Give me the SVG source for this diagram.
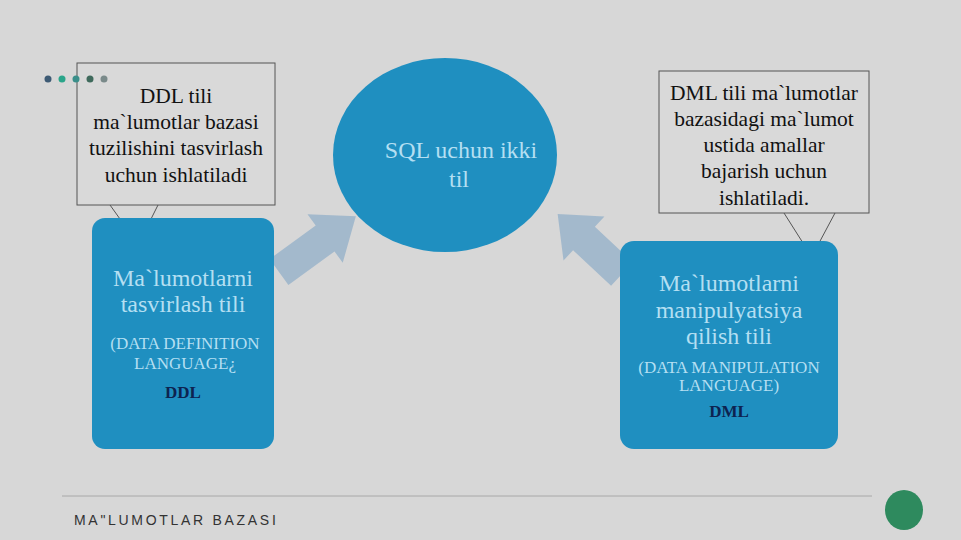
<svg xmlns="http://www.w3.org/2000/svg" width="961" height="540" viewBox="0 0 961 540">
<style>
.callout{fill:#d9d9d9;stroke:#555;stroke-width:1}
.ptr{fill:none;stroke:#555;stroke-width:1}
.ct{font-family:"Liberation Serif",serif;font-size:21.5px;fill:#111;text-anchor:middle}
.box{fill:#1f8fc0}
.bt{font-family:"Liberation Serif",serif;font-size:24px;fill:#b4dff2;text-anchor:middle}
.bs{font-family:"Liberation Serif",serif;font-size:17px;fill:#b4dff2;text-anchor:middle}
.bb{font-family:"Liberation Serif",serif;font-size:17px;font-weight:bold;fill:#0d2350;text-anchor:middle}
.arr{fill:#9db6cb;opacity:0.9}
</style>
<rect width="961" height="540" fill="#d7d7d7"/>
<g id="connectors">
<polygon class="arr" transform="translate(279,272) rotate(-36)" points="0,-16 57,-16 57,-30 95,0 57,30 57,16 0,16"/>
<polygon class="arr" transform="translate(622,274) rotate(-137)" points="0,-16 52,-16 52,-30 88,0 52,30 52,16 0,16"/>
</g>
<g id="sql">
<ellipse cx="445" cy="155" rx="112" ry="97" fill="#1f8fc0"/>
<text class="bt" x="461" y="158" font-size="26">SQL uchun ikki</text>
<text class="bt" x="459" y="187" font-size="26">til</text>
</g>
<g id="ddl-callout">
<rect class="callout" x="77" y="63" width="198" height="142"/>
<polyline class="ptr" points="110,205 120,219"/>
<polyline class="ptr" points="158,205 151,219"/>
<text class="ct" x="176" y="103">DDL tili</text>
<text class="ct" x="176" y="129">ma`lumotlar bazasi</text>
<text class="ct" x="176" y="155">tuzilishini tasvirlash</text>
<text class="ct" x="176" y="182">uchun ishlatiladi</text>
</g>
<g id="dots">
<circle cx="48" cy="79" r="3.5" fill="#3d5a74"/>
<circle cx="62" cy="79" r="3.5" fill="#2aa58a"/>
<circle cx="76" cy="79" r="3.5" fill="#3a8f8a"/>
<circle cx="90" cy="79" r="3.5" fill="#3f6a5c"/>
<circle cx="104" cy="79" r="3.5" fill="#7a8a8a"/>
</g>
<g id="ddl-box">
<rect class="box" x="92" y="218" width="182" height="231" rx="13"/>
<text class="bt" x="183" y="286">Ma`lumotlarni</text>
<text class="bt" x="183" y="312">tasvirlash tili</text>
<text class="bs" x="185" y="349">(DATA DEFINITION</text>
<text class="bs" x="185" y="369">LANGUAGE¿</text>
<text class="bb" x="183" y="398">DDL</text>
</g>
<g id="dml-callout">
<rect class="callout" x="659" y="71" width="210" height="142"/>
<polyline class="ptr" points="784,213 803,243"/>
<polyline class="ptr" points="835,213 819,243"/>
<text class="ct" x="764" y="100">DML tili ma`lumotlar</text>
<text class="ct" x="764" y="126">bazasidagi ma`lumot</text>
<text class="ct" x="764" y="152">ustida amallar</text>
<text class="ct" x="764" y="178">bajarish uchun</text>
<text class="ct" x="764" y="205">ishlatiladi.</text>
</g>
<g id="dml-box">
<rect class="box" x="620" y="241" width="218" height="208" rx="14"/>
<text class="bt" x="729" y="291">Ma`lumotlarni</text>
<text class="bt" x="729" y="318">manipulyatsiya</text>
<text class="bt" x="729" y="344">qilish tili</text>
<text class="bs" x="729" y="373" font-size="16.5">(DATA MANIPULATION</text>
<text class="bs" x="729" y="391" font-size="16.5">LANGUAGE)</text>
<text class="bb" x="729" y="417">DML</text>
</g>
<g id="footer">
<line x1="62" y1="496" x2="872" y2="496" stroke="#a8a8a8" stroke-width="1"/>
<text x="74" y="525" font-family="'Liberation Sans',sans-serif" font-size="14" letter-spacing="2.7" fill="#333">MA"LUMOTLAR BAZASI</text>
<ellipse cx="904" cy="510" rx="19" ry="20" fill="#2e8a5e"/>
</g>
</svg>
